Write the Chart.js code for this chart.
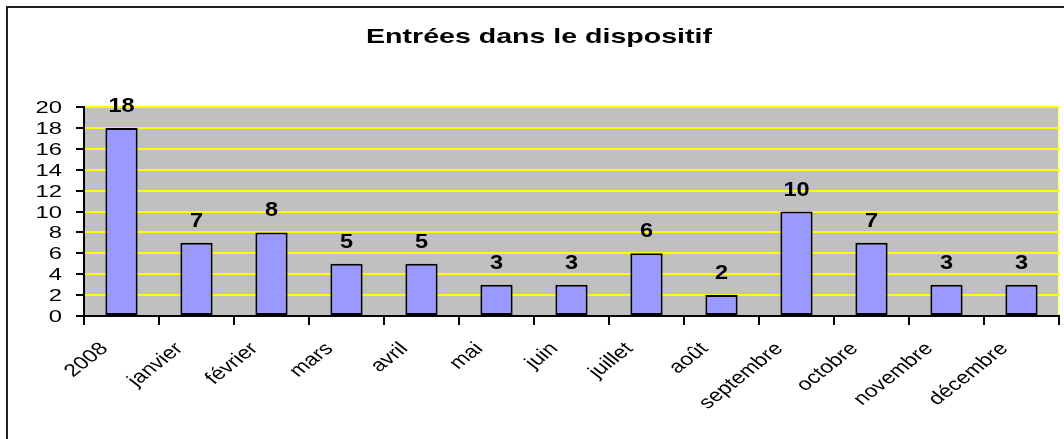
<!DOCTYPE html>
<html><head><meta charset="utf-8">
<script src="https://cdn.jsdelivr.net/npm/chart.js@4.4.0/dist/chart.umd.min.js"></script>
<style>html,body{margin:0;padding:0;background:#fff;}#wrap{width:1064px;height:439px;position:relative;}</style>
</head><body><div id="wrap"><canvas id="c" width="1064" height="439"></canvas></div>
<script>
const categories = ["2008","janvier","février","mars","avril","mai","juin","juillet","août","septembre","octobre","novembre","décembre"];
const entrees = [18,7,8,5,5,3,3,6,2,10,7,3,3];
const yTicks = [0,2,4,6,8,10,12,14,16,18,20];
const titleText = "Entrées dans le dispositif";

const FONT = "'Liberation Sans', Arial, sans-serif";

function stretchedText(ctx, text, x, y, font, sx, align, baseline, rot) {
  ctx.save();
  ctx.translate(x, y);
  ctx.scale(sx, 1);
  if (rot) ctx.rotate(rot);
  ctx.font = font;
  ctx.textAlign = align;
  ctx.textBaseline = baseline;
  ctx.fillStyle = '#000';
  ctx.fillText(text, 0, 0);
  ctx.restore();
}

const deco = {
  id: 'deco',
  beforeDraw(chart) {
    const {ctx, chartArea: a} = chart;
    ctx.save();
    ctx.fillStyle = '#C0C0C0';
    ctx.fillRect(a.left, a.top, a.right - a.left, a.bottom - a.top);
    ctx.strokeStyle = '#FFFF99';
    ctx.lineWidth = 2;
    ctx.beginPath(); ctx.moveTo(a.right, a.top); ctx.lineTo(a.right, a.bottom); ctx.stroke();
    ctx.restore();
  },
  afterDraw(chart) {
    const {ctx} = chart;
    const xs = chart.scales.x, ys = chart.scales.y;
    ctx.save();
    ctx.strokeStyle = '#222';
    ctx.lineWidth = 2;
    ctx.beginPath(); ctx.moveTo(7, 439); ctx.lineTo(7, 7); ctx.lineTo(1064, 7); ctx.stroke();
    ctx.restore();
    stretchedText(ctx, titleText, 539, 43, "bold 21px " + FONT, 1.36, 'center', 'alphabetic', 0);
    yTicks.forEach(v => {
      stretchedText(ctx, String(v), 62, ys.getPixelForValue(v) + 6, "17px " + FONT, 1.4, 'right', 'alphabetic', 0);
    });
    categories.forEach((c, i) => {
      const cx = xs.getPixelForValue(i);
      stretchedText(ctx, c, cx - 17, 346, "18px " + FONT, 1.27, 'right', 'middle', -Math.PI / 4);
    });
    const meta = chart.getDatasetMeta(0);
    meta.data.forEach((bar, i) => {
      stretchedText(ctx, String(entrees[i]), bar.x, bar.y - 16, "bold 21px " + FONT, 1.12, 'center', 'alphabetic', 0);
    });
  }
};

new Chart(document.getElementById('c'), {
  type: 'bar',
  data: {
    labels: categories,
    datasets: [{
      data: entrees,
      backgroundColor: '#9999FF',
      borderColor: '#000',
      borderWidth: 2,
      borderSkipped: false,
      categoryPercentage: 1,
      barPercentage: 0.43
    }]
  },
  options: {
    responsive: false,
    animation: false,
    layout: { padding: { left: 0, top: 107, right: 5, bottom: 0 } },
    plugins: { legend: { display: false }, tooltip: { enabled: false }, title: { display: false } },
    scales: {
      x: {
        grid: { drawOnChartArea: false, tickLength: 9, tickColor: '#000', lineWidth: 2, offset: true },
        border: { color: '#000', width: 2 },
        ticks: { display: false, autoSkip: false },
        afterFit(s) { s.height = 123; }
      },
      y: {
        min: 0, max: 20,
        ticks: { display: false, stepSize: 2 },
        grid: { color: '#FFFF00', lineWidth: 2, tickLength: 8, tickColor: '#000', drawTicks: true },
        border: { color: '#000', width: 2 },
        afterFit(s) { s.width = 84; }
      }
    }
  },
  plugins: [deco]
});
</script></body></html>
